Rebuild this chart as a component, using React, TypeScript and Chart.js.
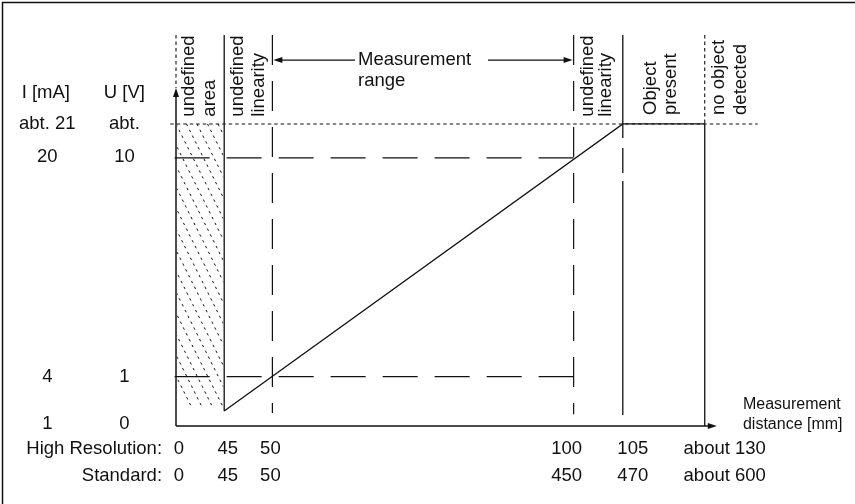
import React, { useEffect, useRef } from 'react';
import { Chart, registerables } from 'chart.js';

Chart.register(...registerables);

// ---- data (schematic diagram units) ----
// x: schematic positions of the distance marks (zone boundaries)
const markPositions = [0, 1, 2, 8.25, 9.27, 10.97];
const highResolutionLabels = ['0', '45', '50', '100', '105', 'about 130'];
const standardLabels = ['0', '45', '50', '450', '470', 'about 600'];

// y: schematic output levels (U scale)
const levelValues = [-1.03, 1, 10, 11.4];
const currentLabels = ['1', '4', '20', 'abt. 21'];
const voltageLabels = ['0', '1', '10', 'abt.'];

// output characteristic
const outputX = [1, 9.27, 10.97, 10.97];
const outputY = [-0.41, 11.4, 11.4, -1.03];

// zone annotations
const zoneTexts = [
  ['undefined', 'area'],
  ['undefined', 'linearity'],
  ['undefined', 'linearity'],
  ['Object', 'present'],
  ['no object', 'detected'],
];

// ---- layout / style (not data) ----
const X_MIN = 0;
const X_MAX = 12.1;
const Y_MIN = -1.03;
const Y_MAX = 15.06;
const Y_AXIS_TIP = 12.88;
const X_AXIS_TIP = 11.22;
const REF_LEFT = -0.12;
const DOT_RIGHT = 12.07;
const HATCH_BOTTOM = -0.21;
const zoneTextX = [
  [0.373, 0.809],
  [1.38, 1.836],
  [8.662, 9.035],
  [9.969, 10.384],
  [11.38, 11.836],
];
const zoneTextY = [11.7, 11.7, 11.7, 11.77, 11.77];
const tickLabelShift = [3, 3.5, -2, -7, 10, 20];
const FONT = '"Liberation Sans", Arial, Helvetica, sans-serif';
const INK = '#111';

type P = [number, number];
const seg = (pts: P[], dash: number[] = [], width = 1.2) => ({
  data: pts.map(([x, y]) => ({ x, y })),
  showLine: true,
  pointRadius: 0,
  pointHoverRadius: 0,
  borderColor: INK,
  borderWidth: width,
  borderDash: dash,
  borderCapStyle: 'butt',
  clip: false,
  fill: false,
  tension: 0,
});

const LONG_DASH = [35, 17];
const V_DASH = [30, 16];
const DOT = [3.5, 3];

function buildDatasets() {
  const [m0, m1, m2, m3, m4, m5] = markPositions;
  const [, l1, l10, lTop] = levelValues;
  return [
    // output characteristic
    seg(outputX.map((x, i) => [x, outputY[i]] as P), [], 1.3),
    // reference levels
    seg([[m3, l10], [REF_LEFT, l10]], LONG_DASH, 1.2),
    seg([[m3, l1], [REF_LEFT, l1]], LONG_DASH, 1.2),
    seg([[REF_LEFT, lTop], [DOT_RIGHT, lTop]], DOT, 1.1),
    // zone boundaries
    seg([[m0, Y_MAX], [m0, Y_AXIS_TIP]], DOT, 1.1),
    seg([[m1, Y_MAX], [m1, outputY[0]]], [], 1.3),
    seg([[m2, Y_MAX], [m2, -0.5]], V_DASH, 1.2),
    seg([[m3, Y_MAX], [m3, -0.55]], V_DASH, 1.2),
    seg([[m4, Y_MAX], [m4, lTop]], [], 1.3),
    seg([[m4, lTop], [m4, -0.58]], [14, 10, 25, 8, 400], 1.3),
    seg([[m5, Y_MAX], [m5, lTop]], DOT, 1.1),
    // axes
    seg([[m0, Y_MIN], [m0, Y_AXIS_TIP - 0.2]], [], 1.5),
    seg([[m0, Y_MIN], [X_AXIS_TIP - 0.15, Y_MIN]], [], 1.5),
  ];
}

function arrowHead(ctx: CanvasRenderingContext2D, x: number, y: number, dir: 'left' | 'right' | 'up', len = 9, half = 3) {
  ctx.beginPath();
  if (dir === 'up') {
    ctx.moveTo(x, y);
    ctx.lineTo(x - half, y + len);
    ctx.lineTo(x + half, y + len);
  } else if (dir === 'left') {
    ctx.moveTo(x, y);
    ctx.lineTo(x + len, y - half);
    ctx.lineTo(x + len, y + half);
  } else {
    ctx.moveTo(x, y);
    ctx.lineTo(x - len, y - half);
    ctx.lineTo(x - len, y + half);
  }
  ctx.closePath();
  ctx.fill();
}

const diagramPlugin = {
  id: 'diagram',
  beforeDatasetsDraw(chart: any) {
    const { ctx } = chart;
    const xs = chart.scales.x;
    const ys = chart.scales.y;
    // hatched "undefined area"
    const left = xs.getPixelForValue(markPositions[0]);
    const right = xs.getPixelForValue(markPositions[1]);
    const top = ys.getPixelForValue(levelValues[3]);
    const bottom = ys.getPixelForValue(HATCH_BOTTOM);
    ctx.save();
    ctx.beginPath();
    ctx.rect(left + 1, top, right - left - 2, bottom - top);
    ctx.clip();
    ctx.strokeStyle = INK;
    ctx.lineWidth = 1;
    ctx.setLineDash([2.5, 4]);
    const h = bottom - top;
    for (let k = -12; k < 12; k++) {
      const x0 = left + k * 10.5;
      ctx.beginPath();
      ctx.moveTo(x0, top);
      ctx.lineTo(x0 + 0.5 * h, bottom);
      ctx.stroke();
    }
    ctx.restore();
  },
  afterDatasetsDraw(chart: any) {
    const { ctx } = chart;
    const xs = chart.scales.x;
    const ys = chart.scales.y;
    const X = (v: number) => xs.getPixelForValue(v);
    const Y = (v: number) => ys.getPixelForValue(v);
    ctx.save();
    ctx.fillStyle = INK;
    ctx.strokeStyle = INK;

    // frame (top and left edges)
    ctx.lineWidth = 1.5;
    ctx.setLineDash([]);
    ctx.beginPath();
    ctx.moveTo(2.5, chart.height);
    ctx.lineTo(2.5, 2.5);
    ctx.lineTo(chart.width, 2.5);
    ctx.stroke();

    // axis arrow heads
    arrowHead(ctx, X(markPositions[0]), Y(Y_AXIS_TIP), 'up', 9, 3);
    arrowHead(ctx, X(X_AXIS_TIP), Y(Y_MIN), 'right', 9, 3);

    // measurement range arrows
    const arrowY = Y(14.03);
    ctx.lineWidth = 1.2;
    ctx.beginPath();
    ctx.moveTo(X(markPositions[2]) + 6, arrowY);
    ctx.lineTo(X(3.714), arrowY);
    ctx.moveTo(X(6.473), arrowY);
    ctx.lineTo(X(markPositions[3]) - 6, arrowY);
    ctx.stroke();
    arrowHead(ctx, X(markPositions[2]) + 1, arrowY, 'left', 9, 3);
    arrowHead(ctx, X(markPositions[3]) - 1, arrowY, 'right', 9, 3);

    ctx.font = `18.5px ${FONT}`;
    ctx.textBaseline = 'alphabetic';
    ctx.textAlign = 'left';
    ctx.fillText('Measurement', X(3.776), Y(13.83));
    ctx.fillText('range', X(3.776), Y(12.96));

    // zone texts (rotated)
    zoneTexts.forEach((lines, i) => {
      lines.forEach((t, j) => {
        ctx.save();
        ctx.translate(X(zoneTextX[i][j]), Y(zoneTextY[i]));
        ctx.rotate(-Math.PI / 2);
        ctx.textAlign = 'left';
        ctx.textBaseline = 'alphabetic';
        ctx.fillText(t, 0, 0);
        ctx.restore();
      });
    });

    // y labels
    const colI = X(-2.67);
    const colU = X(-1.07);
    ctx.textAlign = 'center';
    ctx.textBaseline = 'alphabetic';
    ctx.fillText('I [mA]', colI - 1.5, Y(12.47));
    ctx.fillText('U [V]', colU, Y(12.47));
    ctx.textBaseline = 'middle';
    levelValues.forEach((v, i) => {
      const yy = Y(v) - (i === 0 ? 2 : i === 2 ? 1.5 : 0);
      ctx.fillText(currentLabels[i], colI, yy);
      ctx.fillText(voltageLabels[i], colU, yy);
    });

    // x labels
    const axisY = Y(Y_MIN);
    const row1 = axisY + 23;
    const row2 = axisY + 50;
    ctx.textAlign = 'right';
    ctx.fillText('High Resolution:', X(-0.29), row1);
    ctx.fillText('Standard:', X(-0.29), row2);
    ctx.textAlign = 'left';
    markPositions.forEach((m, i) => {
      const w1 = ctx.measureText(highResolutionLabels[i]).width;
      const w2 = ctx.measureText(standardLabels[i]).width;
      const cx = X(m) + tickLabelShift[i];
      const w = Math.max(w1, w2);
      ctx.fillText(highResolutionLabels[i], cx - w / 2, row1);
      ctx.fillText(standardLabels[i], cx - w / 2, row2);
    });

    // axis title
    ctx.font = `16px ${FONT}`;
    ctx.textBaseline = 'alphabetic';
    ctx.textAlign = 'left';
    ctx.fillText('Measurement', X(11.763), Y(-0.351));
    ctx.fillText('distance [mm]', X(11.763), Y(-1.133));

    ctx.restore();
  },
};

export default function App() {
  const ref = useRef<HTMLCanvasElement | null>(null);
  useEffect(() => {
    if (!ref.current) return;
    const chart = new Chart(ref.current, {
      type: 'scatter',
      data: { datasets: buildDatasets() as any },
      options: {
        animation: false,
        responsive: false,
        events: [],
        layout: { padding: { left: 176, right: 95.8, top: 35, bottom: 78 } },
        scales: {
          x: { type: 'linear', min: X_MIN, max: X_MAX, display: false },
          y: { type: 'linear', min: Y_MIN, max: Y_MAX, display: false },
        },
        plugins: { legend: { display: false }, tooltip: { enabled: false } },
      },
      plugins: [diagramPlugin as any],
    });
    return () => chart.destroy();
  }, []);
  return (
    <div style={{ position: 'fixed', left: 0, top: 0, width: 855, height: 504, background: '#fff' }}>
      <canvas ref={ref} width={855} height={504} style={{ width: 855, height: 504, display: 'block' }} />
    </div>
  );
}
